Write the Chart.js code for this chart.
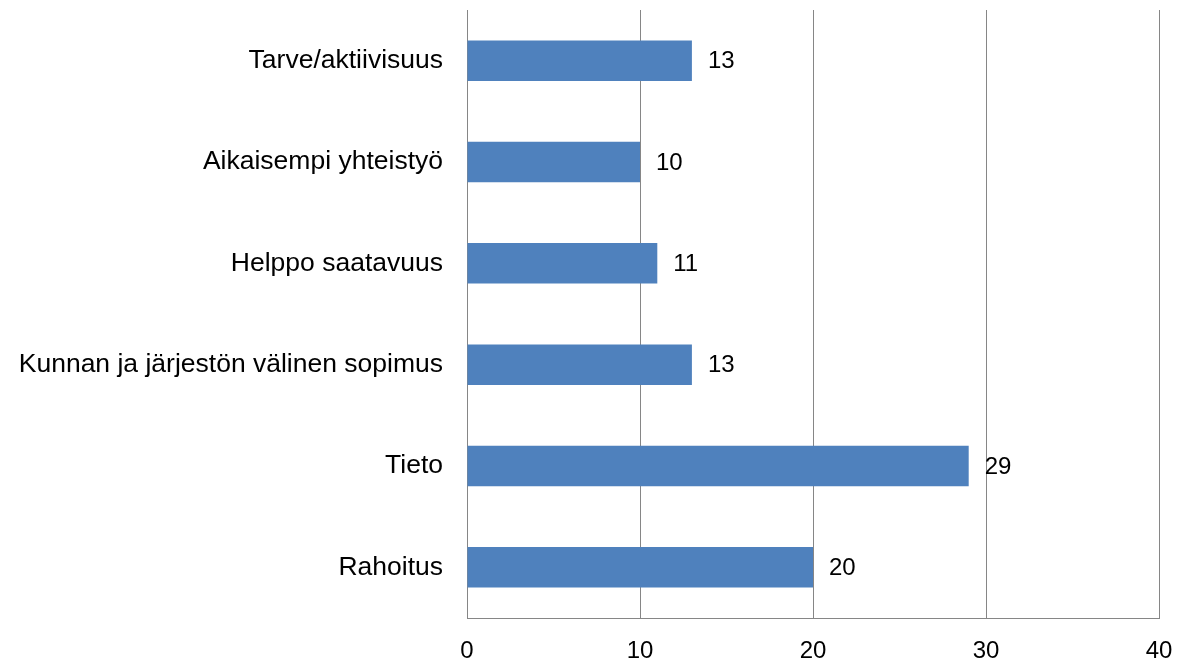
<!DOCTYPE html>
<html>
<head>
<meta charset="utf-8">
<script src="https://cdn.jsdelivr.net/npm/chart.js@4"></script>
<style>
  html, body { margin: 0; padding: 0; background: #fff; }
  #wrap { width: 1179px; height: 663px; }
</style>
</head>
<body>
<div id="wrap"><canvas id="barChart"></canvas></div>
<script>
var categories = [
  "Tarve/aktiivisuus",
  "Aikaisempi yhteistyö",
  "Helppo saatavuus",
  "Kunnan ja järjestön välinen sopimus",
  "Tieto",
  "Rahoitus"
];
var values = [13, 10, 11, 13, 29, 20];
var xTicks = [0, 10, 20, 30, 40];

// numbers next to bar ends
var valueLabels = {
  id: "valueLabels",
  afterDatasetsDraw: function (chart) {
    var ctx = chart.ctx;
    var meta = chart.getDatasetMeta(0);
    ctx.save();
    ctx.font = "24px 'Liberation Sans', Arial, sans-serif";
    ctx.fillStyle = "#000";
    ctx.textAlign = "left";
    ctx.textBaseline = "middle";
    meta.data.forEach(function (bar, i) {
      ctx.fillText(String(values[i]), bar.x + 16, bar.y + 1);
    });
    ctx.restore();
  }
};

var ctx = document.getElementById("barChart").getContext("2d");
var myChart = new Chart(ctx, {
  type: "bar",
  data: {
    labels: categories,
    datasets: [
      {
        data: values,
        backgroundColor: "#4F81BD",
        borderWidth: 0,
        barPercentage: 0.4,
        categoryPercentage: 1.0
      }
    ]
  },
  options: {
    indexAxis: "y",
    responsive: true,
    maintainAspectRatio: false,
    animation: false,
    layout: { padding: { top: 10, right: 20, left: 0, bottom: 0 } },
    plugins: {
      legend: { display: false },
      tooltip: { enabled: false }
    },
    scales: {
      x: {
        min: 0,
        max: 40,
        afterBuildTicks: function (scale) {
          scale.ticks = xTicks.map(function (v) { return { value: v }; });
        },
        afterFit: function (scale) {
          scale.height = 45;
          scale.paddingLeft = 0;
          scale.paddingRight = 0;
        },
        grid: { color: "#868686", lineWidth: 1, tickLength: 0 },
        border: { color: "#868686", width: 1 },
        ticks: {
          padding: 19,
          color: "#000",
          font: { family: "'Liberation Sans', Arial, sans-serif", size: 24 }
        }
      },
      y: {
        afterFit: function (scale) {
          scale.width = 467;
          scale.paddingTop = 0;
          scale.paddingBottom = 0;
        },
        grid: { display: false },
        border: { color: "#868686", width: 1 },
        ticks: {
          padding: 16,
          color: "#000",
          font: { family: "'Liberation Sans', Arial, sans-serif", size: 26.5 }
        }
      }
    }
  },
  plugins: [valueLabels]
});
</script>
</body>
</html>
